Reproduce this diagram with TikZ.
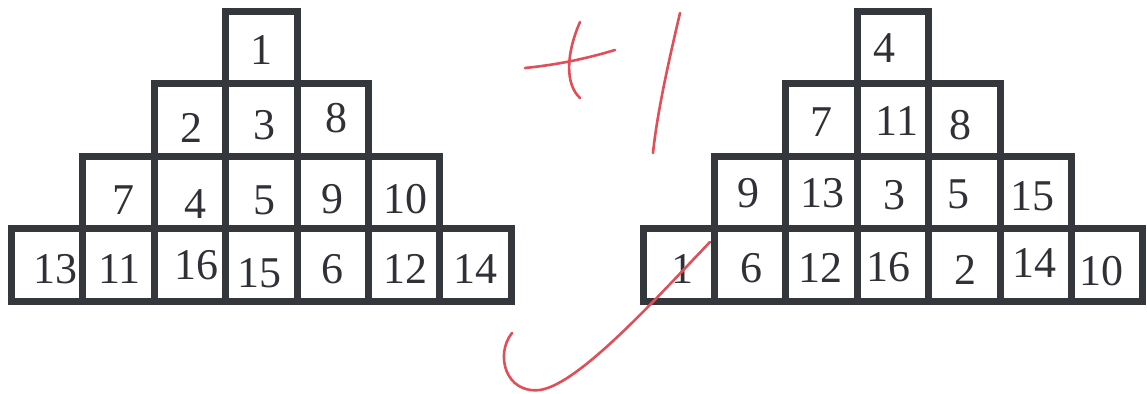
\documentclass[tikz,border=0pt]{standalone}
\usepackage{fontspec}
\setmainfont{Liberation Serif}
\usetikzlibrary{positioning}

\definecolor{frame}{RGB}{52,55,60}
\definecolor{redpen}{RGB}{226,78,88}

\begin{document}
\begin{tikzpicture}[x=0.02cm,y=0.02cm,
    cell/.style={draw=frame,line width=7*0.02cm},
    num/.style={inner sep=0pt,text=frame!90!black,font=\fontsize{25}{28}\selectfont},
    pen/.style={draw=redpen,line width=2.6*0.02cm,line cap=round}]
  \def\cw{71.4}   % Kastenbreite
  \def\ch{72.5}   % Kastenhoehe
  \def\yb{92.5}   % unterste Linie
  \def\oxL{11.5}  % linke Pyramide
  \def\oxR{643}   % rechte Pyramide
  \useasboundingbox (0,0) rectangle (1147,394);

  % ===== Kaesten beider Pyramiden =====
  \foreach \ox in {\oxL,\oxR} {
    \foreach \k in {0,...,3} {
      \pgfmathtruncatemacro\cmax{6-\k}
      \foreach \c in {\k,...,\cmax} {
        \draw[cell] (\ox+\c*\cw,\yb+\k*\ch) rectangle +(\cw,\ch);
      }
    }
  }

  % ===== Zahlen links: Spalte/Reihe/Zahl/dx/dy =====
  \foreach \c/\k/\n/\dx/\dy in {
      3/3/1/0/2,
      2/2/2/1/8, 3/2/3/3/5, 4/2/8/4/-2,
      1/1/7/5/7, 2/1/4/5/11, 3/1/5/3/8, 4/1/9/0/6, 5/1/10/1/6,
      0/0/13/8/4, 1/0/11/1/4, 2/0/16/6/0, 3/0/15/-2/8,
      4/0/6/0/4, 5/0/12/1/4, 6/0/14/0/4} {
    \node[num] (L-\c-\k) at (\oxL+\c*\cw+0.5*\cw+\dx,\yb+\k*\ch+0.5*\ch-\dy) {\n};
  }

  % ===== Zahlen rechts =====
  \foreach \c/\k/\n/\dx/\dy in {
      3/3/4/-8/0,
      2/2/7/0/2, 3/2/11/4/1, 4/2/8/-4/5,
      1/1/9/-2/0, 2/1/13/1/0, 3/1/3/2/2, 4/1/5/-6/2, 5/1/15/-3/3,
      0/0/1/4/4, 1/0/6/1/3, 2/0/12/-1/3, 3/0/16/-4/2,
      4/0/2/1/5, 5/0/14/-1/-2, 6/0/10/-6/6} {
    \node[num] (R-\c-\k) at (\oxR+\c*\cw+0.5*\cw+\dx,\yb+\k*\ch+0.5*\ch-\dy) {\n};
  }

  % ===== rote Handschrift "+1" und Bogen =====
  \draw[pen] (525,326) .. controls (565,330) and (595,338) .. (615,344);
  \draw[pen] (580,372) .. controls (566,340) and (565,310) .. (580,296);
  \draw[pen] (680,381) .. controls (668,330) and (657,280) .. (653,241);
  \draw[pen] (512,61) .. controls (495,40) and (505,0) .. (540,4)
    .. controls (580,10) and (660,100) .. (710,152);
\end{tikzpicture}
\end{document}
